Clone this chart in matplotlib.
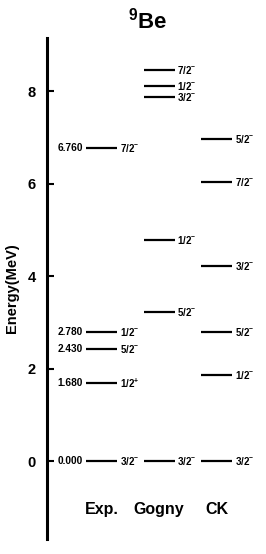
import matplotlib
matplotlib.use("Agg")
import matplotlib.pyplot as plt

plt.rcParams['font.family'] = ['Liberation Sans', 'DejaVu Sans']
plt.rcParams['font.weight'] = 'bold'
plt.rcParams['mathtext.fontset'] = 'custom'
plt.rcParams['mathtext.rm'] = 'Liberation Sans:bold'
plt.rcParams['mathtext.bf'] = 'Liberation Sans:bold'
plt.rcParams['mathtext.it'] = 'Liberation Sans:bold'
plt.rcParams['mathtext.default'] = 'rm'

columns = ["Exp.", "Gogny", "CK"]
exp_energies = [0.000, 1.680, 2.430, 2.780, 6.760]
exp_spins = ["3/2^{-}", "1/2^{+}", "5/2^{-}", "1/2^{-}", "7/2^{-}"]
gogny_energies = [0.0, 3.23, 4.77, 7.87, 8.10, 8.45]
gogny_spins = ["3/2^{-}", "5/2^{-}", "1/2^{-}", "3/2^{-}", "1/2^{-}", "7/2^{-}"]
ck_energies = [0.0, 1.86, 2.78, 4.22, 6.04, 6.96]
ck_spins = ["3/2^{-}", "1/2^{-}", "5/2^{-}", "3/2^{-}", "7/2^{-}", "5/2^{-}"]
yticks = [0, 2, 4, 6, 8]

W, H = 266, 554
fig = plt.figure(figsize=(W / 100, H / 100), dpi=100)
ax = fig.add_axes([47 / W, (554 - 539) / H, (266 - 47) / W, (539 - 38) / H])
ax.set_ylim(-1.686, 9.146)
ax.set_xlim(-0.948, 2.86)

half = 0.27
series = [(exp_energies, exp_spins, True), (gogny_energies, gogny_spins, False),
          (ck_energies, ck_spins, False)]
for i, (en, sp, show_e) in enumerate(series):
    for e, s in zip(en, sp):
        ax.plot([i - half, i + half], [e, e], color='black', lw=1.6, solid_capstyle='butt')
        ax.text(i + half + 0.05, e, "$" + s + "$", fontsize=7, ha='left', va='center')
        if show_e:
            ax.text(i - half - 0.05, e, f"{e:.3f}", fontsize=7.3, ha='right', va='center',
                    fontweight='bold')
    ax.text(i, -1.05, columns[i], fontsize=11.5, ha='center', va='center', fontweight='bold')

for side in ['top', 'right', 'bottom']:
    ax.spines[side].set_visible(False)
ax.spines['left'].set_linewidth(2.2)
ax.set_xticks([])
ax.set_yticks(yticks)
ax.set_yticklabels([str(t) for t in yticks], fontsize=10.5, fontweight='bold')
ax.tick_params(axis='y', direction='in', length=5, width=1.5, pad=8)

fig.text(12 / W, 1 - 288 / H, "Energy(MeV)", rotation=90, fontsize=10.5, fontweight='bold',
         ha='center', va='center')
fig.text(148 / W, 1 - 21 / H, "$^{9}$Be", fontsize=16, fontweight='bold', ha='center', va='center')

fig.savefig("out.png", dpi=100)
